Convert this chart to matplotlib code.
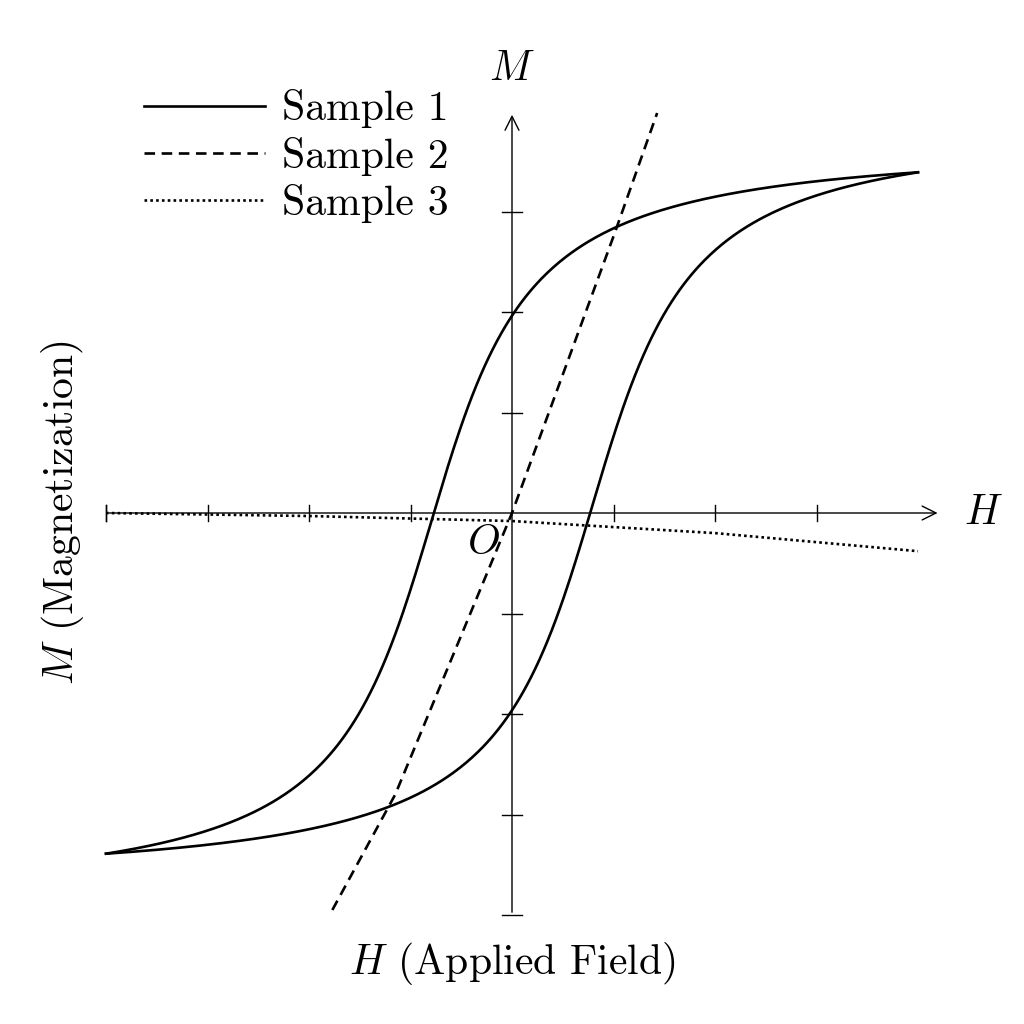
import numpy as np
import matplotlib

matplotlib.use("Agg")
import matplotlib.pyplot as plt  # noqa: E402

plt.rcParams["font.family"] = "serif"
plt.rcParams["font.serif"] = ["cmr10"]
plt.rcParams["mathtext.fontset"] = "cm"
plt.rcParams["axes.unicode_minus"] = False

# Sample 1: hysteresis loop parameters
coercive = 0.8
loop_k = 2.45
loop_a = 0.78
# Sample 2: steep, slightly curved line through the origin
s2_h = [-1.77, -1.15, 0, 1.01, 1.43]
s2_m = [-3.95, -2.8, 0, 2.78, 3.98]
# Sample 3: nearly flat, slightly decreasing
s3_h = [-4, -2, 0, 2, 4]
s3_m = [0.0, -0.03, -0.08, -0.2, -0.38]

ticks = [-4, -3, -2, -1, 1, 2, 3]

h = np.linspace(-4, 4, 400)
shift = coercive * (1 - (h / 4) ** 2)
g = lambda x: loop_k * np.arctan(x / loop_a)
scale = 3.39 / g(4.0)
upper = scale * g(h + shift)
lower = -upper[::-1]

fig = plt.figure(figsize=(10.24, 10.24), dpi=100)
ux, uy = 101.5, 100.5
ax = fig.add_axes([(106 - 0.5 * ux) / 1024, (511 - 4.5 * uy) / 1024,
                   9.5 * ux / 1024, 9.3 * uy / 1024])
ax.set_xlim(-4.5, 5)
ax.set_ylim(-4.5, 4.8)
ax.axis("off")

lw_ax = 1.0
ax.annotate("", xy=(4.22, 0), xytext=(-4, 0),
            arrowprops=dict(arrowstyle="->", lw=lw_ax, mutation_scale=25))
ax.annotate("", xy=(0, 3.99), xytext=(0, -4),
            arrowprops=dict(arrowstyle="->", lw=lw_ax, mutation_scale=25))
for t in ticks:
    ax.plot([t, t], [-0.08, 0.08], color="black", lw=lw_ax)
    ax.plot([-0.1, 0.1], [t, t], color="black", lw=lw_ax)
ax.plot([-4, -4], [-0.08, 0.08], color="black", lw=lw_ax)

ax.plot(h, upper, color="black", lw=1.9, label="Sample 1")
ax.plot(h, lower, color="black", lw=1.9)
ax.plot(s2_h, s2_m, color="black", lw=1.9, ls=(0, (4, 2.5)), label="Sample 2")
ax.plot(s3_h, s3_m, color="black", lw=1.9, ls=(0, (1, 1.2)), label="Sample 3")

fs = 30
ax.text(4.45, 0, "$H$", fontsize=fs, va="center", ha="left")
ax.text(0, 4.42, "$M$", fontsize=fs, va="center", ha="center")
ax.text(-0.12, -0.3, "$O$", fontsize=fs, va="center", ha="right")
ax.text(-4.43, 0, "$M$ (Magnetization)", fontsize=fs, rotation=90,
        va="center", ha="center")
ax.text(0, -4.48, "$H$ (Applied Field)", fontsize=fs, va="center", ha="center")

ax.legend(loc="upper left", bbox_to_anchor=(0.075, 0.955), frameon=False,
          fontsize=fs, handlelength=2.9, labelspacing=0.2, handletextpad=0.4,
          borderaxespad=0)

fig.savefig("out.png", dpi=100)
